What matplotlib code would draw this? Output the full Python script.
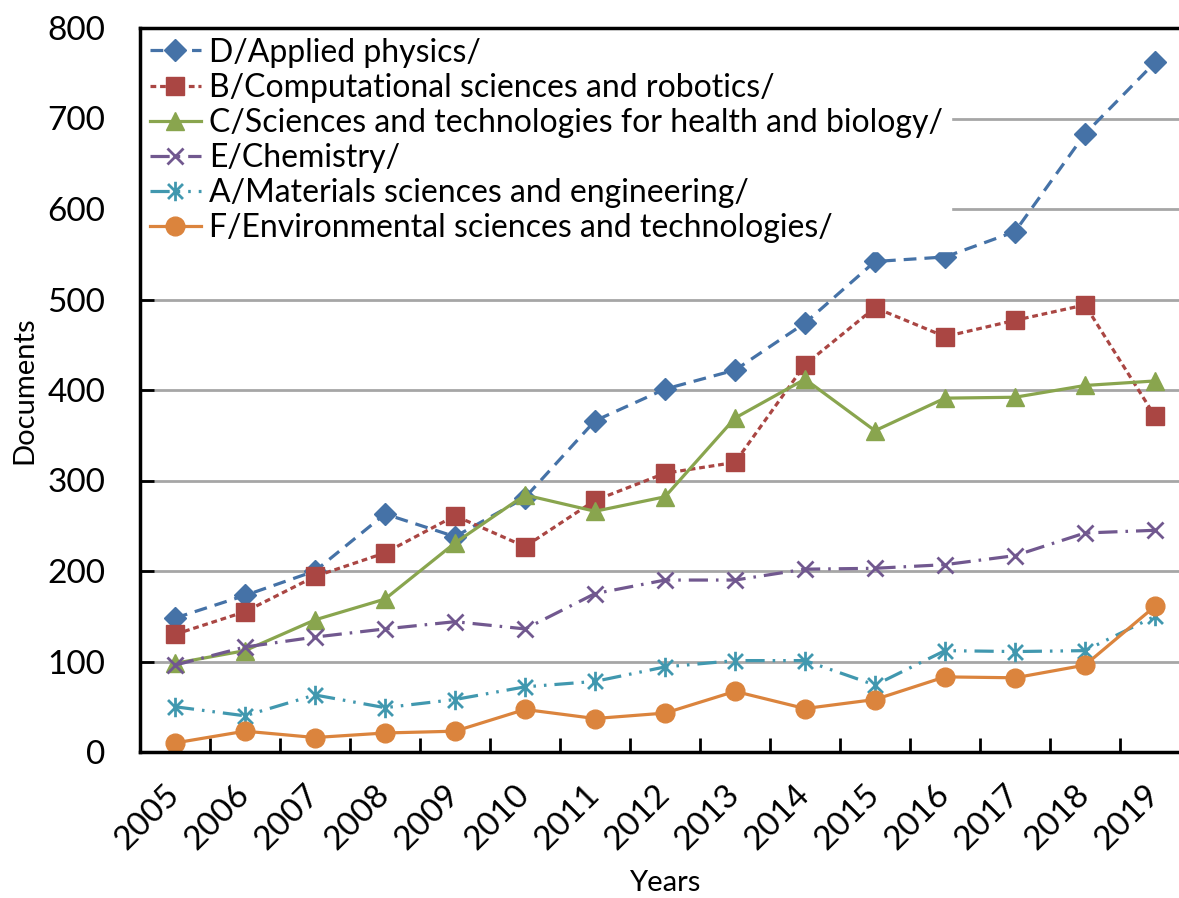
import matplotlib
matplotlib.use("Agg")
import matplotlib.pyplot as plt
from matplotlib.path import Path
import numpy as np

plt.rcParams['font.family'] = ['Lato', 'DejaVu Sans']

years = [str(y) for y in range(2005, 2020)]

d_physics = [148, 173, 200, 263, 238, 281, 366, 401, 422, 474, 542, 547, 575, 683, 762]
b_computational = [130, 155, 194, 220, 261, 227, 278, 308, 320, 428, 491, 459, 477, 494, 371]
c_health = [98, 112, 146, 169, 231, 284, 266, 282, 369, 412, 355, 391, 392, 405, 410]
e_chemistry = [96, 116, 127, 136, 144, 136, 175, 190, 190, 202, 203, 207, 217, 242, 245]
a_materials = [50, 40, 63, 49, 58, 72, 78, 94, 101, 101, 74, 112, 111, 112, 150]
f_environment = [10, 23, 16, 21, 23, 47, 37, 43, 67, 48, 58, 83, 82, 96, 161]

labels = ["D/Applied physics/",
          "B/Computational sciences and robotics/",
          "C/Sciences and technologies for health and biology/",
          "E/Chemistry/",
          "A/Materials sciences and engineering/",
          "F/Environmental sciences and technologies/"]

# excel style asterisk: an x plus a vertical bar
asterisk = Path([(-1, -1), (1, 1), (-1, 1), (1, -1), (0, -1.3), (0, 1.3)],
                [Path.MOVETO, Path.LINETO, Path.MOVETO, Path.LINETO, Path.MOVETO, Path.LINETO])

fig = plt.figure(figsize=(11.79, 8.98), dpi=100)
ax = fig.add_axes([140 / 1179, 146 / 898, 1050 / 1179, 724 / 898])

x = np.arange(len(years))
lw = 2.3
ax.plot(x, d_physics, color='#4572A7', lw=lw, dashes=(4, 2.5), marker='D', ms=11, label=labels[0], zorder=5)
ax.plot(x, b_computational, color='#AA4643', lw=lw, dashes=(1.8, 1.2), marker='s', ms=12.5, label=labels[1], zorder=5)
ax.plot(x, c_health, color='#89A54E', lw=lw, ls='-', marker='^', ms=13.5, label=labels[2], zorder=5)
ax.plot(x, e_chemistry, color='#71588F', lw=lw, dashes=(6, 2.5, 0.8, 2.5), marker='x', ms=12,
        mew=2, label=labels[3], zorder=5)
ax.plot(x, a_materials, color='#4198AF', lw=lw, dashes=(6, 2.5, 0.8, 2.5, 0.8, 2.5), marker=asterisk, ms=14,
        mew=2, label=labels[4], zorder=5)
ax.plot(x, f_environment, color='#DB843D', lw=lw, ls='-', marker='o', ms=13.5, label=labels[5], zorder=5)

ax.set_xlim(-0.5, 14.5)
ax.set_ylim(0, 800)
ax.set_yticks(range(0, 801, 100))
ax.yaxis.grid(True, color='#A6A6A6', lw=2)
ax.set_axisbelow(True)

ax.set_xticks(np.arange(-0.5, 14.6, 1))
ax.set_xticklabels([])
ax.set_xticks(x, minor=True)
ax.set_xticklabels(years, minor=True, rotation=45, ha='right', va='center',
                   rotation_mode='anchor', fontsize=24)
ax.tick_params(axis='x', which='minor', length=0, pad=27)
ax.tick_params(axis='x', which='major', direction='in', length=10, width=2)
ax.tick_params(axis='y', direction='in', length=10, width=2, labelsize=24, pad=25)

for side in ['left', 'bottom', 'top']:
    ax.spines[side].set_linewidth(2.5)
    ax.spines[side].set_zorder(11)
ax.spines['right'].set_visible(False)

ax.set_ylabel("Documents", fontsize=21, labelpad=7)
ax.set_xlabel("Years", fontsize=21)
ax.xaxis.set_label_coords(0.5, -0.163)

leg = ax.legend(loc='upper left', fontsize=23, frameon=True, fancybox=False, framealpha=1,
                edgecolor='white', handlelength=1.6, numpoints=1, borderaxespad=0.05,
                labelspacing=0.16, handletextpad=0.25, borderpad=0.25)
leg.set_zorder(10)

fig.savefig("out.png", dpi=100)
